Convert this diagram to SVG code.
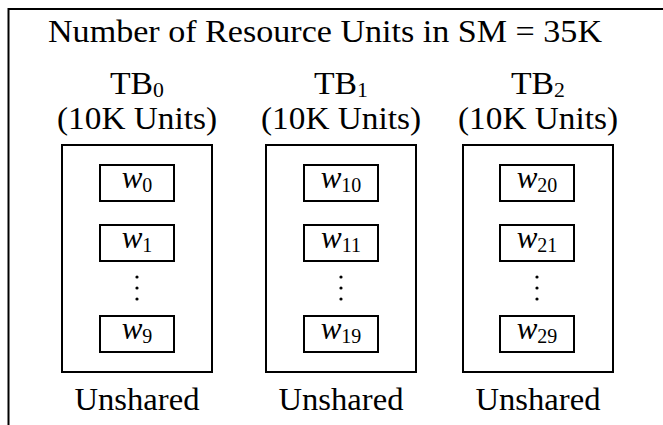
<svg xmlns="http://www.w3.org/2000/svg" width="663" height="425" viewBox="0 0 663 425">
  <style>
    .t { font-family: "Liberation Serif", "Times New Roman", serif; font-size: 31px; fill: #000; }
    .c { text-anchor: middle; }
    .w { font-style: italic; }
    .sub { font-size: 20px; font-style: normal; }
    .box { fill: #fff; stroke: #000; stroke-width: 2; }
    .frame { fill: none; stroke: #000; stroke-width: 2; }
  </style>
  <defs>
    <g id="ellipsis">
      <circle cx="0" cy="0" r="1.6" fill="#000"/>
      <circle cx="0" cy="11" r="1.6" fill="#000"/>
      <circle cx="0" cy="22" r="1.6" fill="#000"/>
    </g>
  </defs>

  <rect width="663" height="425" fill="#fff"/>

  <!-- SM frame (open on the right and bottom) -->
  <path class="frame" d="M8.5,425 V9 H663"/>
  <text class="t" x="48" y="42" textLength="554" lengthAdjust="spacingAndGlyphs">Number of Resource Units in SM = 35K</text>

  <!-- thread block 0 -->
  <g id="tb0">
    <text class="t c" x="137" y="94" textLength="54" lengthAdjust="spacingAndGlyphs">TB<tspan class="sub" dy="3">0</tspan></text>
    <text class="t c" x="137" y="129" textLength="160" lengthAdjust="spacingAndGlyphs">(10K Units)</text>
    <rect class="box" x="62" y="145" width="150" height="227"/>
    <g id="w0">
      <rect class="box" x="100" y="165" width="74" height="36"/>
      <text class="t c w" x="137" y="188">w<tspan class="sub" dy="4">0</tspan></text>
    </g>
    <g id="w1">
      <rect class="box" x="100" y="225" width="74" height="36"/>
      <text class="t c w" x="137" y="248">w<tspan class="sub" dy="4">1</tspan></text>
    </g>
    <use href="#ellipsis" x="137" y="277"/>
    <g id="w9">
      <rect class="box" x="100" y="316" width="74" height="36"/>
      <text class="t c w" x="137" y="339">w<tspan class="sub" dy="4">9</tspan></text>
    </g>
    <text class="t c" x="137" y="410" textLength="125" lengthAdjust="spacingAndGlyphs">Unshared</text>
  </g>

  <!-- thread block 1 -->
  <g id="tb1">
    <text class="t c" x="341" y="94" textLength="54" lengthAdjust="spacingAndGlyphs">TB<tspan class="sub" dy="3">1</tspan></text>
    <text class="t c" x="341" y="129" textLength="160" lengthAdjust="spacingAndGlyphs">(10K Units)</text>
    <rect class="box" x="266" y="145" width="150" height="227"/>
    <g id="w10">
      <rect class="box" x="304" y="165" width="74" height="36"/>
      <text class="t c w" x="341" y="188">w<tspan class="sub" dy="4">10</tspan></text>
    </g>
    <g id="w11">
      <rect class="box" x="304" y="225" width="74" height="36"/>
      <text class="t c w" x="341" y="248">w<tspan class="sub" dy="4">11</tspan></text>
    </g>
    <use href="#ellipsis" x="341" y="277"/>
    <g id="w19">
      <rect class="box" x="304" y="316" width="74" height="36"/>
      <text class="t c w" x="341" y="339">w<tspan class="sub" dy="4">19</tspan></text>
    </g>
    <text class="t c" x="341" y="410" textLength="125" lengthAdjust="spacingAndGlyphs">Unshared</text>
  </g>

  <!-- thread block 2 -->
  <g id="tb2">
    <text class="t c" x="538" y="94" textLength="54" lengthAdjust="spacingAndGlyphs">TB<tspan class="sub" dy="3">2</tspan></text>
    <text class="t c" x="538" y="129" textLength="160" lengthAdjust="spacingAndGlyphs">(10K Units)</text>
    <rect class="box" x="463" y="145" width="150" height="227"/>
    <g id="w20">
      <rect class="box" x="500" y="165" width="74" height="36"/>
      <text class="t c w" x="537" y="188">w<tspan class="sub" dy="4">20</tspan></text>
    </g>
    <g id="w21">
      <rect class="box" x="500" y="225" width="74" height="36"/>
      <text class="t c w" x="537" y="248">w<tspan class="sub" dy="4">21</tspan></text>
    </g>
    <use href="#ellipsis" x="537" y="277"/>
    <g id="w29">
      <rect class="box" x="500" y="316" width="74" height="36"/>
      <text class="t c w" x="537" y="339">w<tspan class="sub" dy="4">29</tspan></text>
    </g>
    <text class="t c" x="538" y="410" textLength="125" lengthAdjust="spacingAndGlyphs">Unshared</text>
  </g>
</svg>
